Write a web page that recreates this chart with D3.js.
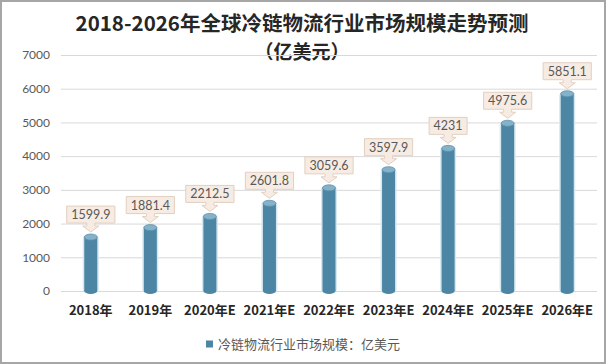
<!DOCTYPE html>
<html>
<head>
<meta charset="utf-8">
<script src="https://cdn.jsdelivr.net/npm/d3@7"></script>
<style>
  html, body { margin: 0; padding: 0; background: #fff; }
</style>
</head>
<body>
<div id="canvas"></div>
<script>
const categories = ["2018年", "2019年", "2020年E", "2021年E", "2022年E", "2023年E", "2024年E", "2025年E", "2026年E"];
const values = [1599.9, 1881.4, 2212.5, 2601.8, 3059.6, 3597.9, 4231, 4975.6, 5851.1];
const yTicks = [0, 1000, 2000, 3000, 4000, 5000, 6000, 7000];
const titleLines = ["2018-2026年全球冷链物流行业市场规模走势预测", "（亿美元）"];
const legendLabel = "冷链物流行业市场规模：亿美元";

const width = 608;
const height = 364;
const margin = { top: 55, left: 61, bottom: 73, right: 11 };
const iwidth = width - margin.left - margin.right;
const iheight = height - margin.top - margin.bottom;

const barColor = "#4d86a4";

const svg = d3.select("#canvas").append("svg")
  .attr("width", width)
  .attr("height", height);

svg.append("rect")
  .attr("width", width).attr("height", height)
  .attr("fill", "#fff");

// title, two lines
svg.selectAll("text.title")
  .data(titleLines)
  .enter()
  .append("text")
  .attr("class", "title")
  .attr("x", 302)
  .attr("y", (d, i) => i === 0 ? 31 : 59)
  .attr("text-anchor", "middle")
  .style("font-family", "'Noto Sans CJK SC', sans-serif")
  .style("font-weight", "bold")
  .style("font-size", (d, i) => i === 0 ? "20.5px" : "19px")
  .style("fill", "#262626")
  .text(d => d);

const g = svg.append("g")
  .attr("transform", `translate(${margin.left},${margin.top})`);

const y = d3.scaleLinear().domain([0, 7000]).range([iheight, 0]);
const x = d3.scaleBand().domain(categories).range([0, iwidth]).padding(0);

// grid + y axis
const yAxis = g.append("g")
  .call(d3.axisLeft(y).tickValues(yTicks).tickSize(-iwidth).tickPadding(11).tickFormat(d3.format("d")));
yAxis.select(".domain").remove();
yAxis.selectAll(".tick line").attr("stroke", "#d9d9d9");
yAxis.selectAll(".tick text")
  .style("font-family", "Lato, 'Liberation Sans', sans-serif")
  .style("font-size", "12px")
  .style("fill", "#595959");

// x axis
const xAxis = g.append("g")
  .attr("transform", `translate(0,${iheight})`)
  .call(d3.axisBottom(x).tickSize(0).tickPadding(15));
xAxis.select(".domain").remove();
xAxis.selectAll(".tick text")
  .style("font-family", "'Noto Sans CJK SC', sans-serif")
  .style("font-weight", "bold")
  .style("font-size", "13px")
  .style("fill", "#262626");

// cylinders
const bw = 13;
const ry = 3;
const bars = g.selectAll("g.bar").data(values).enter().append("g")
  .attr("class", "bar")
  .attr("transform", (d, i) => `translate(${x(categories[i]) + x.bandwidth() / 2},0)`);

bars.append("rect")
  .attr("x", -bw / 2 - 1.5)
  .attr("y", d => y(d) - 1.5)
  .attr("width", bw + 3)
  .attr("height", d => iheight - y(d) + 3)
  .attr("rx", 4)
  .attr("fill", "#d5e7ef");

bars.append("rect")
  .attr("x", -bw / 2)
  .attr("y", d => y(d))
  .attr("width", bw)
  .attr("height", d => iheight - y(d))
  .attr("fill", barColor);

bars.append("ellipse")
  .attr("cx", 0)
  .attr("cy", iheight)
  .attr("rx", bw / 2)
  .attr("ry", ry)
  .attr("fill", barColor);

bars.append("ellipse")
  .attr("cx", 0)
  .attr("cy", d => y(d))
  .attr("rx", bw / 2)
  .attr("ry", ry)
  .attr("fill", "#85b2c8")
  .attr("stroke", "#5d93ae")
  .attr("stroke-width", 0.8);

// data label callouts
bars.each(function (d) {
  const sel = d3.select(this);
  const label = String(d);
  const t = sel.append("text")
    .attr("x", 0)
    .attr("text-anchor", "middle")
    .style("font-family", "Lato, 'Liberation Sans', sans-serif")
    .style("font-size", "12.5px")
    .style("fill", "#595959")
    .text(label);
  const tw = t.node().getComputedTextLength();
  const w = tw + 9;
  const h = 17;
  const tip = y(d) - 5;
  const bottom = tip - 9;
  const top = bottom - h;
  const sw = 4, hw = 8;
  const path = [
    [-w / 2, top], [w / 2, top], [w / 2, bottom],
    [sw, bottom], [sw, bottom + 3], [hw, bottom + 3], [0, tip],
    [-hw, bottom + 3], [-sw, bottom + 3], [-sw, bottom], [-w / 2, bottom]
  ];
  sel.insert("path", "text")
    .attr("d", d3.line()(path) + "Z")
    .attr("fill", "#f7ece3")
    .attr("stroke", "#e2cfc0")
    .attr("stroke-width", 1);
  t.attr("y", top + h / 2 + 4.5);
});

// legend
const legend = svg.append("g").attr("transform", "translate(206,344)");
legend.append("rect")
  .attr("x", 0).attr("y", -3.5)
  .attr("width", 7).attr("height", 7)
  .attr("fill", barColor);
legend.append("text")
  .attr("x", 12).attr("y", 4.5)
  .style("font-family", "'Noto Sans CJK SC', sans-serif")
  .style("font-size", "13px")
  .style("fill", "#595959")
  .text(legendLabel);

// frame
svg.append("rect")
  .attr("x", 1).attr("y", 1)
  .attr("width", width - 4).attr("height", height - 2)
  .attr("fill", "none")
  .attr("stroke", "#a6a6a6")
  .attr("stroke-width", 2);
</script>
</body>
</html>
